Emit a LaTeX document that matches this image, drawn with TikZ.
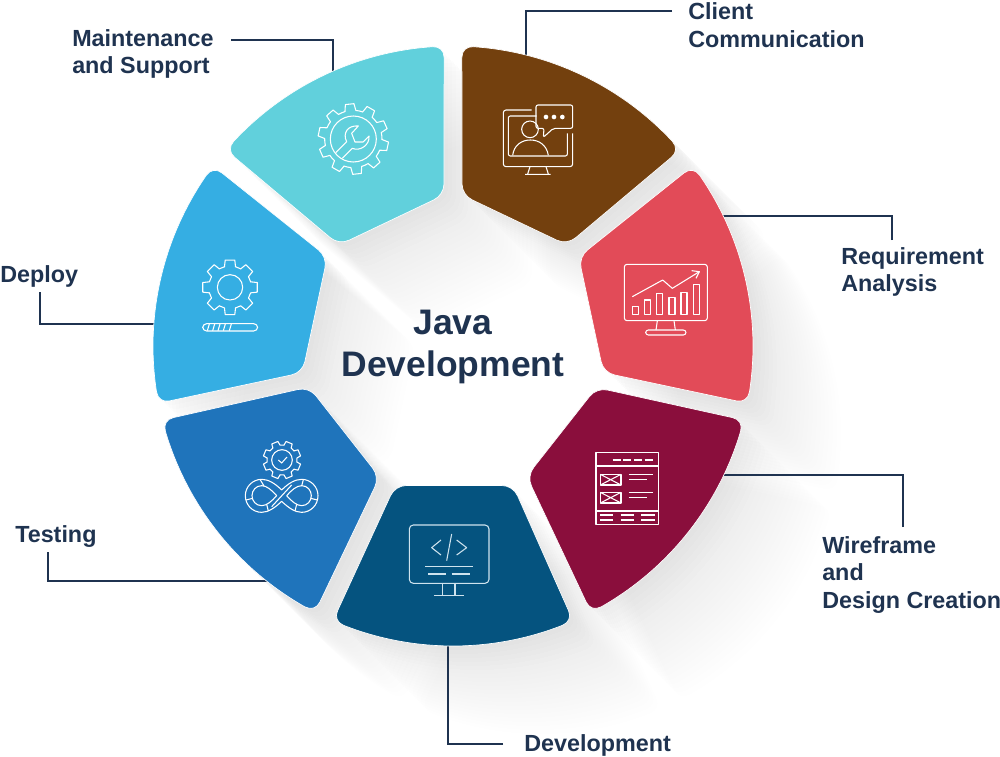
\documentclass[tikz,border=0pt]{standalone}
\usepackage{fontspec}
\usetikzlibrary{calc}
\setmainfont{Liberation Sans}
\definecolor{navy}{HTML}{1F3350}
\definecolor{cBrown}{HTML}{73400E}
\definecolor{cRed}{HTML}{E24B58}
\definecolor{cWine}{HTML}{8A0E3C}
\definecolor{cDev}{HTML}{05537F}
\definecolor{cTest}{HTML}{1F74BB}
\definecolor{cDeploy}{HTML}{35AEE3}
\definecolor{cMaint}{HTML}{61D0DC}
\definecolor{icoDev}{HTML}{CFE3EE}
\newcommand\Pol[1]{({453+300*cos(#1)},{346+300*sin(#1)})}
\newcommand\Cor[3]{.. controls ($(#1)!.6!(#2)$) and ($(#3)!.6!(#2)$) .. (#3)}
% outer arc a1..a2, then inner vertices P, Q; all four corners eased
\newcommand\Petal[4]{\Pol{#2} coordinate (V1) \Pol{#1} coordinate (V2) (#3) coordinate (P) (#4) coordinate (Q)
  \Pol{#2-2.2} coordinate (E1) \Pol{#1+2.2} coordinate (S)
  ($(V1)!8.5pt!(P)$) coordinate (V1p) ($(P)!8.5pt!(V1)$) coordinate (Pa) ($(P)!8.5pt!(Q)$) coordinate (Pb)
  ($(Q)!8.5pt!(P)$) coordinate (Qa) ($(Q)!8.5pt!(V2)$) coordinate (Qb) ($(V2)!8.5pt!(Q)$) coordinate (V2q)
  (S) arc[start angle=#1+2.2,end angle=#2-2.2,radius=300]
  \Cor{E1}{V1}{V1p} -- (Pa) \Cor{Pa}{P}{Pb} -- (Qa) \Cor{Qa}{Q}{Qb} -- (V2q) \Cor{V2q}{V2}{S} -- cycle}
\newcommand\petalBrown{\Petal{-88.3}{-40.8}{567,245}{462,195}}
\newcommand\petalRed{\Petal{-36.9}{11}{603.5,372.6}{578.7,257}}
\newcommand\petalWine{\Petal{14.3}{62.6}{526.8,476.2}{596.5,387.6}}
\newcommand\petalDev{\Petal{66.4}{113.6}{395.2,485.5}{513,485.5}}
\newcommand\petalTest{\Petal{117.4}{165.7}{309,387}{379.6,477}}
\newcommand\petalDeploy{\Petal{169}{216.9}{327.3,257}{302.5,372.6}}
\newcommand\petalMaint{\Petal{220.8}{268.3}{444,195}{339,245}}
\newcommand\shadowof[1]{%
  \foreach \i in {1,...,22}{\fill[black,opacity=.004,shift={(\i*4,\i*4)}] #1;}%
  \foreach \i in {1,...,6}{\fill[black,opacity=.004,shift={(\i*4,\i*4)}] #1;}}
\newcommand\gearshape[6]{% root tip n phase halfroot halftip
  \foreach \k [evaluate=\k as \a using #4+\k*360/#3] in {1,...,#3}{
    \draw[icon,line cap=round] (\a-#5:#1) -- (\a-#6:#2) -- (\a+#6:#2) -- (\a+#5:#1) arc[start angle=\a+#5,end angle=\a+360/#3-#5,radius=#1];
  }}
\tikzset{
  petal/.style={draw=white,line width=.5pt},
  icon/.style={draw=white,line width=.8pt,line join=round},
  zs/.style 2 args={shift={(#1,#2)},x=.25pt,y=-.25pt},
  conn/.style={draw=navy,line width=1.5pt},
  lab/.style={text=navy,font=\fontsize{17.5pt}{20.7pt}\selectfont\bfseries,align=left,anchor=west,inner sep=0pt},
}
\begin{document}
\begin{tikzpicture}[x=.75pt,y=-.75pt]
\useasboundingbox (0,0) rectangle (1000,757);
% long shadows
\shadowof{\petalBrown}
\shadowof{\petalRed}
\shadowof{\petalWine}
\shadowof{\petalDev}
\shadowof{\petalTest}
\shadowof{\petalDeploy}
\shadowof{\petalMaint}
% labels
\node[lab] (lClient) at (688,25) {Client\\Communication};
\node[lab] (lMaint) at (72,54) {Maintenance\\and Support};
\node[lab] (lReq) at (841,272) {Requirement\\Analysis};
\node[lab] (lWire) at (822,575) {Wireframe\\and\\Design Creation};
\node[lab] (lDev) at (524,745) {Development};
\node[lab] (lTest) at (15,536.5) {Testing};
\node[lab] (lDeploy) at (0,276) {Deploy};
\node[text=navy,font=\fontsize{26.6pt}{30.9pt}\selectfont\bfseries,align=center] (title) at (453,347) {Java\\Development};
% connector ends
\coordinate (aClient) at (672,11);   \coordinate (bClient) at (526,60);
\coordinate (aMaint) at (231,40);    \coordinate (bMaint) at (333,75);
\coordinate (aReq) at (892,240);     \coordinate (bReq) at (720,216);
\coordinate (aWire) at (903,527);    \coordinate (bWire) at (720,475);
\coordinate (aDev) at (503,744);     \coordinate (bDev) at (448,640);
\coordinate (aTest) at (48,552);     \coordinate (bTest) at (275,581);
\coordinate (aDeploy) at (40,292);   \coordinate (bDeploy) at (160,324);
\draw[conn] (aClient) -| (bClient);
\draw[conn] (aMaint) -| (bMaint);
\draw[conn] (aReq) |- (bReq);
\draw[conn] (aWire) |- (bWire);
\draw[conn] (aDev) -| (bDev);
\draw[conn] (aTest) |- (bTest);
\draw[conn] (aDeploy) |- (bDeploy);
% petals
\path[petal,fill=cBrown] \petalBrown;
\path[petal,fill=cRed] \petalRed;
\path[petal,fill=cWine] \petalWine;
\path[petal,fill=cDev] \petalDev;
\path[petal,fill=cTest] \petalTest;
\path[petal,fill=cDeploy] \petalDeploy;
\path[petal,fill=cMaint] \petalMaint;
% icon: client communication
\begin{scope}[zs={440}{30}]
 \draw[icon,rounded corners=2pt] (275,240) -- (190,240) -- (190,410) -- (398,410) -- (398,310);
 \draw[icon,rounded corners=1.5pt] (290,258) -- (205,258) -- (205,378) -- (382,378) -- (382,310);
 \draw[icon] (270,298) circle[radius=25];
 \draw[icon] (218,376) .. controls (222,345) and (245,330) .. (271,330) .. controls (297,330) and (320,345) .. (325,376);
 \draw[icon,rounded corners=1.5pt] (312,295) -- (288,295) -- (288,225) -- (398,225) -- (398,295) -- (340,295) -- (310,322) -- cycle;
 \foreach \q in {318,342,367} \fill[white] (\q,261) circle[radius=7];
 \draw[icon] (270,410) -- (263,432) (318,410) -- (325,432) (255,433) -- (332,433);
\end{scope}
% icon: requirement analysis
\begin{scope}[zs={570}{160}]
 \draw[icon,rounded corners=2pt] (163,313) rectangle (412,482);
 \draw[icon] (262,482) -- (258,510) (312,482) -- (316,510);
 \draw[icon,rounded corners=2pt] (227,510) rectangle (348,525);
 \foreach \xa/\yt in {188/440,223/420,260/400,297/413,333/398,370/373}
   \draw[icon] (\xa,\yt) rectangle (\xa+18,463);
 \draw[icon] (187,410) -- (278,360) -- (307,385) -- (388,335);
 \draw[icon] (365,332) -- (388,335) -- (378,355);
\end{scope}
% icon: wireframe
\begin{scope}[zs={520}{380}]
 \draw[icon] (228,218) rectangle (416,433);
 \draw[icon] (228,258) -- (416,258) (228,393) -- (416,393);
 \foreach \xa in {278,310,342,374} \draw[icon] (\xa,240) -- (\xa+24,240);
 \foreach \yt in {283,337} {
   \draw[icon] (241,\yt) rectangle (303,\yt+32);
   \draw[icon] (241,\yt) -- (303,\yt+32) (241,\yt+32) -- (303,\yt);
   \draw[icon] (326,\yt) -- (398,\yt) (326,\yt+15) -- (382,\yt+15);
 }
 \foreach \xa in {240,302,364} \draw[icon] (\xa,405) -- (\xa+40,405) (\xa,420) -- (\xa+40,420);
\end{scope}
% icon: development
\begin{scope}[zs={330}{480},icon/.append style={draw=icoDev}]
 \draw[icon,rounded corners=3pt] (238,135) rectangle (477,310);
 \draw[icon] (338,310) -- (338,347) (375,310) -- (375,347) (313,347) -- (402,347);
 \draw[icon] (333,180) -- (305,203) -- (333,225);
 \draw[icon] (365,162) -- (350,242);
 \draw[icon] (380,180) -- (410,203) -- (380,225);
 \draw[icon,line width=1.2pt] (286,260) -- (428,260);
 \draw[icon] (295,282) -- (349,282) (365,282) -- (420,282);
\end{scope}
% icon: testing
\begin{scope}[zs={160}{385}]
 \begin{scope}[shift={(366,225)}]
  \gearshape{45}{57}{8}{22.5}{15}{10}
  \draw[icon] (0,0) circle[radius=31];
  \draw[icon] (-11,0) -- (-1,9) -- (15,-9);
 \end{scope}
 \draw[icon] (365,315) .. controls (345,295) and (325,283) .. (305,283) .. controls (278,283) and (256,305) .. (256,332) .. controls (256,360) and (278,382) .. (305,382) .. controls (325,382) and (345,368) .. (365,349) .. controls (385,368) and (405,382) .. (425,382) .. controls (452,382) and (474,360) .. (474,332) .. controls (474,305) and (452,283) .. (425,283) .. controls (405,283) and (385,295) .. (365,315);
 \draw[icon] (350,332) .. controls (335,315) and (320,302) .. (305,302) .. controls (288,302) and (276,316) .. (276,332) .. controls (276,348) and (288,362) .. (305,362) .. controls (320,362) and (335,349) .. (350,332);
 \draw[icon] (380,332) .. controls (395,315) and (410,302) .. (425,302) .. controls (442,302) and (454,316) .. (454,332) .. controls (454,348) and (442,362) .. (425,362) .. controls (410,362) and (395,349) .. (380,332);
 \draw[icon] (335,365) -- (395,300) (300,283) -- (312,303) (258,345) -- (278,340) (325,378) -- (320,358) (430,284) -- (425,303) (472,345) -- (452,340) (405,378) -- (410,358);
\end{scope}
% icon: deploy
\begin{scope}[zs={150}{165}]
 \begin{scope}[shift={(240,367)}]
  \gearshape{64}{83}{8}{0}{15}{10}
  \draw[icon] (0,0) circle[radius=38];
 \end{scope}
 \draw[icon,rounded corners=3pt] (158,476) rectangle (323,498);
 \foreach \xa in {178,194,210,226,244} \draw[icon] (\xa,477) -- (\xa-6,497);
\end{scope}
% icon: maintenance
\begin{scope}[zs={225}{40}]
 \begin{scope}[shift={(385,297)}]
  \gearshape{86}{106}{10}{12}{11}{7}
  \draw[icon] (0,0) circle[radius=69];
 \end{scope}
 \draw[icon] (332,338) -- (365,305) .. controls (352,280) and (368,255) .. (400,258) -- (380,280) -- (390,306) -- (414,306) -- (432,288) .. controls (435,315) and (405,335) .. (382,325) -- (352,355);
\end{scope}
\end{tikzpicture}
\end{document}
